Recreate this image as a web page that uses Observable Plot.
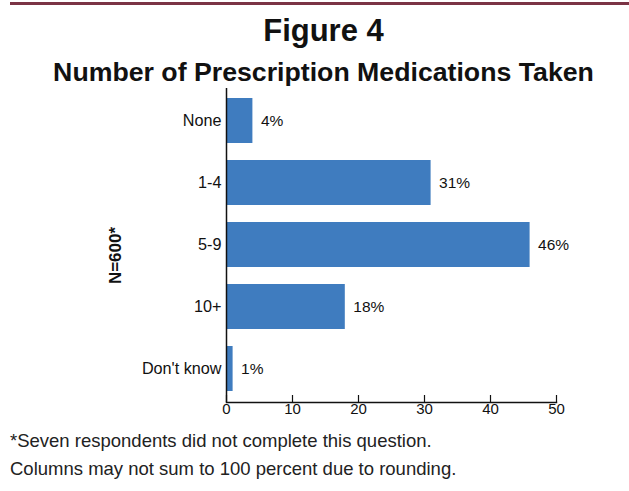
<!DOCTYPE html>
<html>
<head>
<meta charset="utf-8">
<script src="https://cdn.jsdelivr.net/npm/d3@7"></script>
<script src="https://cdn.jsdelivr.net/npm/@observablehq/plot@0.6"></script>
<style>
  html, body { margin: 0; padding: 0; background: #fff; }
  #wrap { position: relative; width: 629px; height: 491px; overflow: hidden; font-family: "Liberation Sans", Arial, sans-serif; }
  #topline { position: absolute; left: 10px; right: 0; top: 2px; height: 3px; background: #7b3445; }
  .t { position: absolute; left: 0; width: 629px; text-align: center; font-weight: bold; color: #111; white-space: nowrap; }
  #title { top: 15px; font-size: 31px; line-height: 31px; left: 9px; }
  #subtitle { top: 59px; font-size: 26.7px; line-height: 26.7px; left: 9px; }
  #chart { position: absolute; left: 0; top: 85px; }
  .note { position: absolute; left: 10px; font-size: 18.5px; line-height: 18.5px; color: #222; white-space: nowrap; }
  #note1 { top: 432px; }
  #note2 { top: 460px; }
</style>
</head>
<body>
<div id="wrap">
  <div id="topline"></div>
  <div id="title" class="t">Figure 4</div>
  <div id="subtitle" class="t">Number of Prescription Medications Taken</div>
  <div id="chart"></div>
  <div id="note1" class="note">*Seven respondents did not complete this question.</div>
  <div id="note2" class="note">Columns may not sum to 100 percent due to rounding.</div>
</div>
<script>
const categories = ["None", "1-4", "5-9", "10+", "Don't know"];
const percents = [4, 31, 46, 18, 1];
const xTicks = [0, 10, 20, 30, 40, 50];
const yLabel = "N=600*";

const data = categories.map((c, i) => ({category: c, value: percents[i]}));

const chart = Plot.plot({
  width: 629,
  height: 342,
  marginTop: 3,
  marginBottom: 25,
  marginLeft: 226,
  marginRight: 73,
  style: {fontFamily: "Liberation Sans, Arial, sans-serif", color: "#111", background: "transparent"},
  x: {domain: [0, 50], ticks: xTicks, label: null},
  y: {domain: categories, paddingInner: 0.27, paddingOuter: 0.14, label: null},
  marks: [
    Plot.barX(data, {x: "value", y: "category", fill: "#3f7cbf"}),
    Plot.frame({anchor: "bottom", stroke: "#111", strokeWidth: 1.5}),
    Plot.ruleX([0], {stroke: "#111", strokeWidth: 1.5}),
    Plot.axisX({ticks: xTicks, tickSize: -7, tickPadding: 8, fontSize: 15, stroke: "#111", strokeWidth: 1.2, label: null}),
    Plot.axisY({tickSize: 0, tickPadding: 5, fontSize: 16.2, label: null}),
    Plot.text(data, {x: "value", y: "category", text: d => d.value + "%", textAnchor: "start", dx: 8, fontSize: 15.5, fill: "#111"}),
    Plot.text([yLabel], {frameAnchor: "left", textAnchor: "middle", dx: -111, dy: 10, rotate: -90, fontSize: 17, fontWeight: "bold", fill: "#111"})
  ]
});
document.getElementById("chart").appendChild(chart);
</script>
</body>
</html>
